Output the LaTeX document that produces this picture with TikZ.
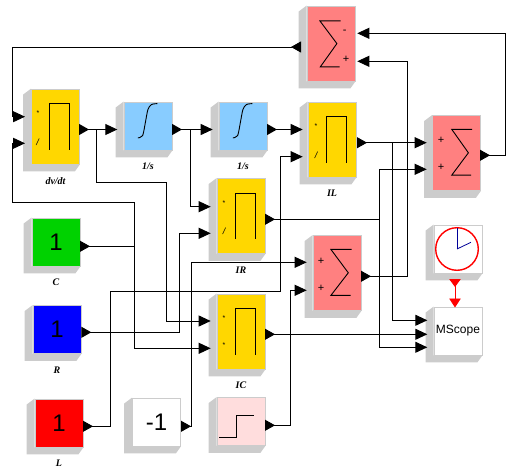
\documentclass[tikz,border=0pt]{standalone}
\usepackage{fontspec}
\setmainfont{Liberation Serif}
\setsansfont{Liberation Sans}
\usetikzlibrary{arrows.meta}
\definecolor{shadecol}{HTML}{CCCCCC}
\definecolor{prodcol}{HTML}{FFD700}
\definecolor{intcol}{HTML}{88CCFF}
\definecolor{sumcol}{HTML}{FF8080}
\definecolor{stepcol}{HTML}{FFDDDD}
\definecolor{constg}{HTML}{00D200}
\definecolor{handcol}{HTML}{000099}
\newcommand{\blockshade}[1]{\fill[shadecol] (#1.north west) -- ++(-8,6) |- ([xshift=-5pt,yshift=-7pt]#1.south east) -- (#1.south east) -- (#1.south west) -- cycle;}
\begin{document}
\begin{tikzpicture}[
	x=1pt, y=-1pt,
	block/.style={ draw=shadecol, line width=0.8pt, inner sep=0pt, minimum width=48pt, minimum height=48pt, font=\sffamily\fontsize{24}{24}\selectfont },
	tallblock/.style={ block, minimum height=75pt },
	blocklabel/.style={ font=\rmfamily\bfseries\itshape\fontsize{10}{10}\selectfont, inner sep=0pt },
	sign/.style={ font=\sffamily\fontsize{11}{11}\selectfont, inner sep=0pt },
	mulsign/.style={ font=\sffamily\fontsize{7}{7}\selectfont, inner sep=0pt },
	divsign/.style={ font=\sffamily\itshape\fontsize{9}{9}\selectfont, inner sep=0pt },
	icon/.style={ line width=0.9pt },
	wire/.style={ line width=0.9pt, -{Triangle[length=12pt,width=11pt]} },
	link/.style={ wire, {Triangle[reversed,length=10pt,width=11pt]}-{Triangle[length=12pt,width=11pt]} },
	redlink/.style={ line width=0.9pt, red, {Triangle[reversed,length=8pt,width=11.5pt]}-{Triangle[length=9pt,width=11.5pt]} }
]
\useasboundingbox (0,0) rectangle (515,474);

% blocks
\node at (55.5,126.5) (dvdt) [tallblock,fill=prodcol,label={[blocklabel,label distance=12.5pt]below:dv/dt}] {};
\node at (148,126) (intA) [block,fill=intcol,label={[blocklabel,label distance=12.5pt]below:1/s}] {};
\node at (243,126) (intB) [block,fill=intcol,label={[blocklabel,label distance=12.5pt]below:1/s}] {};
\node at (332,139.5) (il) [tallblock,fill=prodcol,label={[blocklabel,label distance=12.5pt]below:IL}] {};
\node at (241,216) (ir) [tallblock,fill=prodcol,label={[blocklabel,label distance=12.5pt]below:IR}] {};
\node at (241,331.5) (ic) [tallblock,fill=prodcol,label={[blocklabel,label distance=12.5pt]below:IC}] {};
\node at (331,43.5) (sumtop) [tallblock,fill=sumcol] {};
\node at (456.5,153) (sumright) [tallblock,fill=sumcol] {};
\node at (337,273) (summid) [tallblock,fill=sumcol] {};
\node at (56,242) (constc) [block,fill=constg,label={[blocklabel,label distance=12.5pt]below:C}] {1};
\node at (57,329.5) (constr) [block,fill=blue,label={[blocklabel,label distance=12.5pt]below:R}] {1};
\node at (59,423) (constl) [block,fill=red,label={[blocklabel,label distance=12.5pt]below:L}] {1};
\node at (156.5,422) (constm) [block,fill=white] {-1};
\node at (241,421.5) (stepblk) [block,fill=stepcol] {};
\node at (458,249) (clock) [block,fill=white] {};
\node at (458,331) (mscope) [block,fill=white,font=\sffamily\fontsize{12}{12}\selectfont] {MScope};

\blockshade{dvdt}
\blockshade{intA}
\blockshade{intB}
\blockshade{il}
\blockshade{ir}
\blockshade{ic}
\blockshade{sumtop}
\blockshade{sumright}
\blockshade{summid}
\blockshade{constc}
\blockshade{constr}
\blockshade{constl}
\blockshade{constm}
\blockshade{stepblk}
\blockshade{clock}
\blockshade{mscope}

% icons
\draw[icon,shift={(dvdt.north west)}] (18.3,61) |- (38.3,15.3) -- (38.3,61);
\draw[icon,shift={(il.north west)}] (19.3,61) |- (39.3,15.3) -- (39.3,61);
\draw[icon,shift={(ir.north west)}] (19.3,61) |- (39.3,15.3) -- (39.3,61);
\draw[icon,shift={(ic.north west)}] (19.3,61) |- (39.3,15.3) -- (39.3,61);
\draw[icon,shift={(intA.north west)}] plot[smooth] coordinates {(14.3,36.3) (19,34) (21.7,21.3) (24.3,8) (27.7,3) (33.7,2)};
\draw[icon,shift={(intB.north west)}] plot[smooth] coordinates {(14.3,36.3) (19,34) (21.7,21.3) (24.3,8) (27.7,3) (33.7,2)};
\draw[icon,shift={(sumtop.north west)}] (34,15.3) -- (13.3,15.3) -- (30.3,38) -- (13.7,61.3) -- (33,61.3);
\draw[icon,shift={(sumright.north west)}] (40,14.3) -- (19.7,14.3) -- (36.3,37.7) -- (19.7,60) -- (39,60);
\draw[icon,shift={(summid.north west)}] (39,14.3) -- (18.3,14.3) -- (35.7,37.7) -- (18.3,60.3) -- (38,60.3);
\draw[icon] (219,437.3) -| (236.7,415.3) -- (254,415.3);
\coordinate (clockhub) at (457,249);
\draw[red,line width=1.4pt] (clockhub) circle (21.3pt);
\draw[handcol,line width=0.8pt] (clockhub) -- (457,228);
\draw[handcol,line width=0.8pt] (clockhub) -- (471,242.3);

% port signs
\node at (38,113.5) (dvdtmul) [mulsign] {*};
\node at (37.5,142.7) (dvdtdiv) [divsign] {/};
\node at (316,126.5) (ilmul) [mulsign] {*};
\node at (316,155.7) (ildiv) [divsign] {/};
\node at (224,203) (irmul) [mulsign] {*};
\node at (224,231.3) (irdiv) [divsign] {/};
\node at (224,318) (icmula) [mulsign] {*};
\node at (224,345) (icmulb) [mulsign] {*};
\node at (344.7,32.3) (sumtopminus) [sign] {-};
\node at (346,59.7) (sumtopplus) [sign] {+};
\node at (441,140.7) (sumrightplusa) [sign] {+};
\node at (441,167.3) (sumrightplusb) [sign] {+};
\node at (321,261.3) (summidplusa) [sign] {+};
\node at (321,288.3) (summidplusb) [sign] {+};

% ports
\coordinate (dvdtout) at (79,129.5);
\coordinate (dvdta) at (25,116.7);
\coordinate (dvdtb) at (25,143.3);
\coordinate (intAin) at (117.3,129.5);
\coordinate (intAout) at (172,129.5);
\coordinate (intBin) at (212.7,129.5);
\coordinate (intBout) at (267,129.5);
\coordinate (ila) at (302.7,129.5);
\coordinate (ilb) at (302.7,156.7);
\coordinate (ilout) at (357,142.7);
\coordinate (ira) at (210.7,206.7);
\coordinate (irb) at (210.7,233.3);
\coordinate (irout) at (265,219.3);
\coordinate (ica) at (210.7,321);
\coordinate (icb) at (210.7,348.3);
\coordinate (icout) at (265,334.3);
\coordinate (sumtopa) at (357.3,33.3);
\coordinate (sumtopb) at (357.3,61.3);
\coordinate (sumtopout) at (301,47);
\coordinate (sumrighta) at (426.7,142.7);
\coordinate (sumrightb) at (426.7,169.3);
\coordinate (sumrightout) at (480,155.3);
\coordinate (summida) at (306.7,262.3);
\coordinate (summidb) at (306.7,290.3);
\coordinate (summidout) at (361,276.3);
\coordinate (constcout) at (80,246.3);
\coordinate (constrout) at (81.3,332.3);
\coordinate (constlout) at (83,426.3);
\coordinate (constmout) at (181,426.3);
\coordinate (stepout) at (265,425.3);
\coordinate (scopea) at (427.3,320.3);
\coordinate (scopeb) at (427.3,334.3);
\coordinate (scopec) at (427.3,347.3);
\coordinate (scopetop) at (455,307.5);
\coordinate (clockout) at (455,279);
\coordinate (dvdtjoin) at (96.5,129.5);
\coordinate (intAjoin) at (190.7,129.5);
\coordinate (iljoin) at (392.3,142.7);
\coordinate (irjoin) at (379.3,219.3);
\coordinate (constcjoin) at (134.3,246.3);

% connectors
\draw[link] (dvdtout) to (intAin);
\draw[wire] (dvdtjoin) |- (166.5,182) |- (ica);
\draw[link] (intAout) to (intBin);
\draw[wire] (intAjoin) |- (ira);
\draw[link] (intBout) to (ila);
\draw[link] (ilout) to (sumrighta);
\draw[wire] (iljoin) |- (scopea);
\draw[link] (irout) -- (irjoin) |- (sumrightb);
\draw[wire] (irjoin) |- (scopec);
\draw[link] (icout) to (scopeb);
\draw[link] (sumrightout) -| (505.3,100) |- (sumtopa);
\draw[link] (summidout) -| (407.7,100) |- (sumtopb);
\draw[link] (sumtopout) -| (12.3,80) |- (dvdta);
\draw[link] (constcout) -- (constcjoin) |- (icb);
\draw[wire] (constcjoin) |- (12.3,202.3) |- (dvdtb);
\draw[link] (constrout) -| (179.3,280) |- (irb);
\draw[link] (constlout) -| (110.3,291.3) -| (280.7,220) |- (ilb);
\draw[link] (constmout) -| (191.7,300) |- (summida);
\draw[link] (stepout) -| (290.3,350) |- (summidb);
\draw[redlink] (clockout) -- (scopetop);

\end{tikzpicture}
\end{document}
